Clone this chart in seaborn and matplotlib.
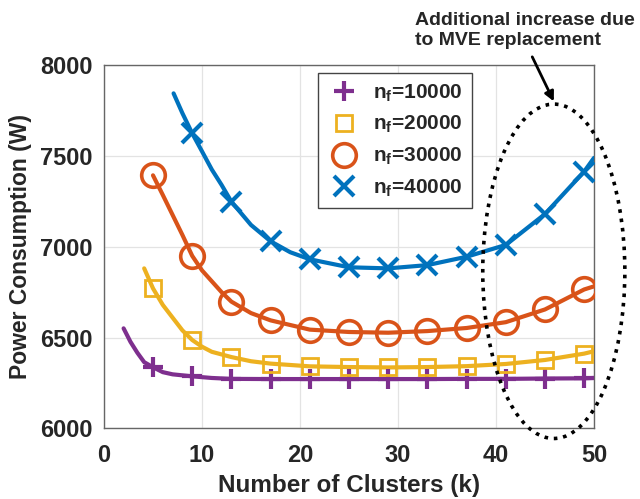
import numpy as np
import pandas as pd
import matplotlib
matplotlib.use("Agg")
import matplotlib.pyplot as plt
from matplotlib.patches import Ellipse
import seaborn as sns

# ---------------- data ----------------
labels = ["10000", "20000", "30000", "40000"]

# simulated points (markers)
k_markers = [5, 9, 13, 17, 21, 25, 29, 33, 37, 41, 45, 49]
m10000 = [6337, 6287, 6273, 6272, 6272, 6272, 6272, 6272, 6273, 6273, 6275, 6276]
m20000 = [6771, 6487, 6393, 6357, 6342, 6338, 6336, 6338, 6343, 6355, 6377, 6412]
m30000 = [7393, 6950, 6698, 6595, 6544, 6531, 6527, 6536, 6553, 6585, 6655, 6765]
k_m40000 = [9, 13, 17, 21, 25, 29, 33, 37, 41, 45, 49]
m40000 = [7624, 7248, 7030, 6931, 6887, 6881, 6899, 6945, 7010, 7180, 7414]

# fitted curves
c10000_k = [2.0, 2.7, 3.4, 4.1, 5, 6, 7, 9, 11, 13, 17, 21, 25, 29, 33, 37, 41, 45, 49, 50]
c10000_p = [6551, 6477, 6417, 6365, 6337, 6310, 6298, 6287, 6278, 6273, 6272, 6272,
            6272, 6272, 6272, 6273, 6273, 6275, 6276, 6278]
c20000_k = [4.1, 5, 6, 7, 8, 9, 10, 11, 13, 15, 17, 21, 25, 29, 33, 37, 41, 45, 49, 50]
c20000_p = [6881, 6771, 6680, 6610, 6540, 6487, 6450, 6422, 6393, 6370, 6357, 6342,
            6338, 6336, 6338, 6343, 6355, 6377, 6412, 6425]
c30000_k = [5, 6, 7, 8, 9, 10, 11, 12, 13, 15, 17, 21, 25, 29, 33, 37, 41, 45, 49, 50]
c30000_p = [7393, 7285, 7175, 7065, 6950, 6870, 6810, 6750, 6698, 6635, 6595, 6544,
            6531, 6527, 6536, 6553, 6585, 6655, 6765, 6782]
c40000_k = [7.1, 8, 9, 10, 11, 12, 13, 15, 17, 19, 21, 25, 29, 33, 37, 41, 45, 49, 50]
c40000_p = [7844, 7735, 7624, 7525, 7425, 7340, 7248, 7120, 7030, 6970, 6931, 6887,
            6881, 6899, 6945, 7010, 7180, 7414, 7489]

colors = ["#7E2F8E", "#EDB120", "#D95319", "#0072BD"]
markers = ["+", "s", "o", "x"]
msizes = [14, 12, 17, 14]
mews = [3.0, 2.0, 2.6, 3.0]

xticks = [0, 10, 20, 30, 40, 50]
yticks = [6000, 6500, 7000, 7500, 8000]

# ---------------- style ----------------
sns.set_theme(style="white")
plt.rcParams["font.family"] = ["Liberation Sans", "DejaVu Sans"]
plt.rcParams["font.weight"] = "bold"
plt.rcParams["mathtext.fontset"] = "custom"
plt.rcParams["mathtext.rm"] = "Liberation Sans:bold"
plt.rcParams["mathtext.bf"] = "Liberation Sans:bold"
plt.rcParams["mathtext.it"] = "Liberation Sans:bold"

fig = plt.figure(figsize=(6.4, 4.99), dpi=100)
ax = fig.add_axes([0.1625, 0.1413, 0.7656, 0.7284])

curves = [(c10000_k, c10000_p), (c20000_k, c20000_p),
          (c30000_k, c30000_p), (c40000_k, c40000_p)]
points = [(k_markers, m10000), (k_markers, m20000),
          (k_markers, m30000), (k_m40000, m40000)]

for i, (ck, cp) in enumerate(curves):
    df_line = pd.DataFrame({"k": ck, "p": cp})
    sns.lineplot(data=df_line, x="k", y="p", ax=ax, color=colors[i],
                 linewidth=3, legend=False, sort=True, zorder=3)

handles = []
for i, (kx, py) in enumerate(points):
    df_m = pd.DataFrame({"k": kx, "p": py})
    sns.lineplot(data=df_m, x="k", y="p", ax=ax, color=colors[i],
                 linestyle="", marker=markers[i], markersize=msizes[i],
                 markeredgewidth=mews[i], markerfacecolor="none",
                 markeredgecolor=colors[i], legend=False, zorder=4)
    h, = ax.plot([], [], linestyle="", marker=markers[i], markersize=msizes[i],
                 markeredgewidth=mews[i], markerfacecolor="none",
                 markeredgecolor=colors[i],
                 label=r"$\mathbf{n_f}$=" + labels[i])
    handles.append(h)

ax.set_xlim(0, 50)
ax.set_ylim(6000, 8000)
ax.set_xticks(xticks)
ax.set_yticks(yticks)
ax.tick_params(axis="both", labelsize=17, length=4, color="#555555",
               direction="in")
ax.tick_params(axis="x", pad=11)
ax.tick_params(axis="y", pad=8)
for lab in ax.get_xticklabels() + ax.get_yticklabels():
    lab.set_fontweight("bold")
ax.grid(True, color="#e3e3e3", linewidth=0.9, zorder=0)
ax.set_axisbelow(True)
for s in ax.spines.values():
    s.set_color("#666666")
    s.set_linewidth(1.0)

ax.set_xlabel("Number of Clusters (k)", fontsize=17.5, fontweight="bold", labelpad=5)
ax.set_ylabel("Power Consumption (W)", fontsize=16.5, fontweight="bold", labelpad=6)

leg = ax.legend(handles=handles, loc="upper left", bbox_to_anchor=(0.437, 0.978),
                fontsize=15, frameon=True, fancybox=False, edgecolor="#444444",
                framealpha=1, borderpad=0.45, labelspacing=0.5, handletextpad=0.6,
                handlelength=1.6, borderaxespad=0)
leg.get_frame().set_linewidth(1.0)
leg.set_zorder(5)

# dotted ellipse highlighting the additional increase
ell = Ellipse((45.9, 6865), width=14.5, height=1840, fill=False,
              linestyle=(0, (1, 1.6)), linewidth=2.6, edgecolor="black",
              clip_on=False, zorder=6)
ax.add_patch(ell)

ax.annotate("", xy=(45.9, 7800), xytext=(43.7, 8045),
            xycoords="data", textcoords="data",
            arrowprops=dict(arrowstyle="-|>", color="black", lw=2,
                            mutation_scale=14, shrinkA=0, shrinkB=0),
            annotation_clip=False)
fig.text(415 / 640, 1 - 12 / 499, "Additional increase due\nto MVE replacement",
         ha="left", va="top", fontsize=14, fontweight="bold", linespacing=1.25)

fig.savefig("out.png", dpi=100)
